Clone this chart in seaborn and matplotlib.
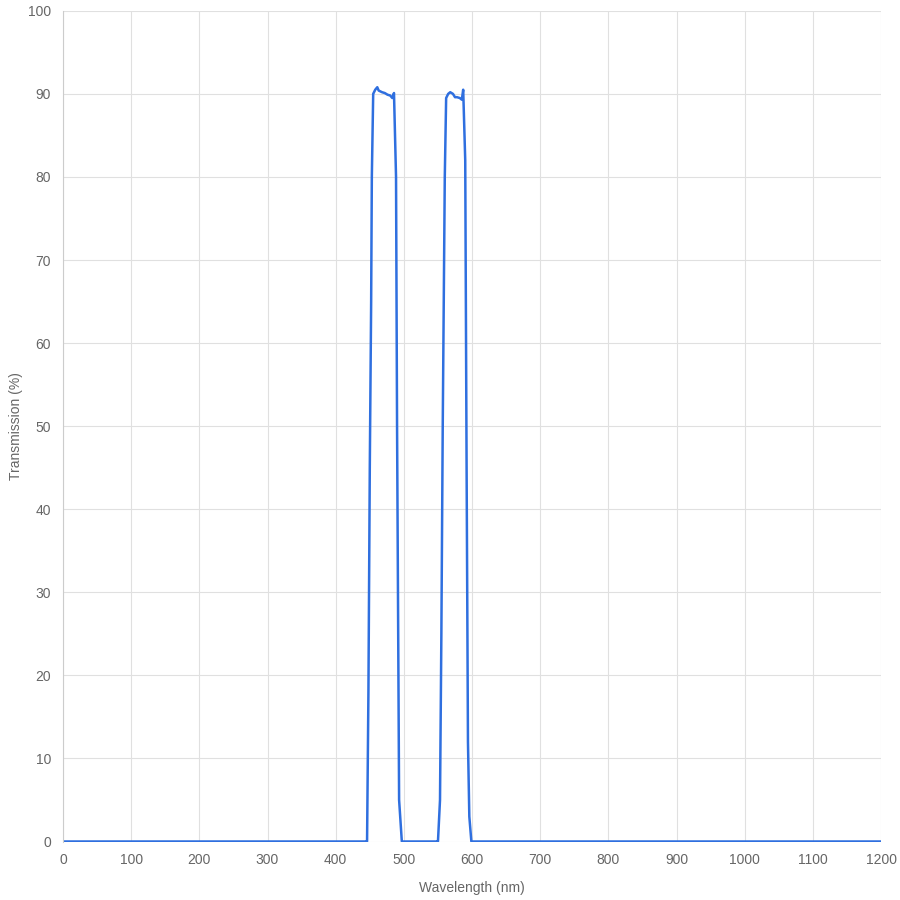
import matplotlib
matplotlib.use("Agg")
import matplotlib.pyplot as plt
import seaborn as sns
import pandas as pd

wavelength = [0, 445, 446, 448, 450, 452, 453, 455, 458, 461, 463, 468, 472, 476, 480, 483, 485.5,
              488.5, 490, 493, 497, 549, 550, 553, 555, 557, 560, 562, 565, 568, 572, 575, 578, 582,
              585, 587, 590, 592, 594, 596, 599, 1200]
transmission = [0, 0, 0, 18, 45, 65, 80, 90, 90.5, 90.8, 90.4, 90.2, 90.1, 89.9, 89.8, 89.5, 90.1,
                80, 50, 5, 0, 0, 0, 5, 25, 50, 80, 89.5, 90, 90.2, 90, 89.6, 89.6, 89.5,
                89.3, 90.5, 82, 45, 12, 3, 0, 0]

df = pd.DataFrame({"Wavelength (nm)": wavelength, "Transmission (%)": transmission})

sns.set_theme(style="whitegrid")
plt.rcParams['font.family'] = ['Liberation Sans', 'DejaVu Sans']
fig, ax = plt.subplots(figsize=(9, 9), dpi=100)
fig.subplots_adjust(left=0.07, right=0.979, top=0.988, bottom=0.065)
sns.lineplot(data=df, x="Wavelength (nm)", y="Transmission (%)", ax=ax, color="#2f6fdf", linewidth=1.8)
ax.set_xlim(0, 1200)
ax.set_ylim(0, 100)
ax.set_xticks(range(0, 1201, 100))
ax.set_yticks(range(0, 101, 10))
for s in ax.spines.values():
    s.set_visible(False)
ax.spines['left'].set_visible(True)
ax.spines['left'].set_color("#cccccc")
ax.spines['left'].set_linewidth(0.8)
ax.grid(color="#e0e0e0", linewidth=0.8)
ax.tick_params(colors="#666666", labelsize=10, length=5, color="#e0e0e0")
ax.xaxis.label.set_color("#666666"); ax.yaxis.label.set_color("#666666")
ax.xaxis.label.set_size(10); ax.yaxis.label.set_size(10)
ax.xaxis.labelpad = 10
fig.savefig("out.png")
